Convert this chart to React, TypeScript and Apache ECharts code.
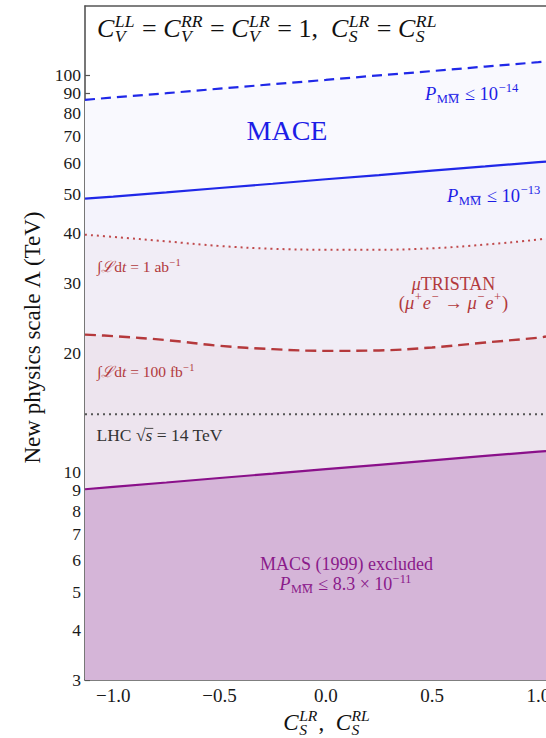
import React, { useEffect, useRef } from 'react';
import * as echarts from 'echarts';

// ---------- data ----------
const xValues = [-1.133, -1, -0.75, -0.5, -0.25, 0, 0.25, 0.5, 0.75, 1, 1.036];
const maceP14 = [86.5, 87.7, 89.9, 92.3, 94.7, 97.1, 99.7, 102.2, 104.9, 107.6, 108.0];
const maceP13 = [48.8, 49.4, 50.6, 51.9, 53.2, 54.6, 55.9, 57.4, 58.8, 60.3, 60.5];
const tristan1ab = [39.6, 39.1, 38.1, 37.1, 36.5, 36.3, 36.3, 36.6, 37.4, 38.5, 38.8];
const tristan100fb = [22.2, 22.0, 21.5, 20.8, 20.4, 20.2, 20.25, 20.6, 21.2, 21.8, 21.95];
const lhc14 = [14, 14, 14, 14, 14, 14, 14, 14, 14, 14, 14];
const macs1999 = [9.06, 9.19, 9.42, 9.67, 9.92, 10.18, 10.44, 10.71, 10.99, 11.27, 11.3];
const xTicks = [-1, -0.5, 0, 0.5, 1];
const yTicks = [3, 4, 5, 6, 7, 8, 9, 10, 20, 30, 40, 50, 60, 70, 80, 90, 100];

const FONT = 'Liberation Serif, DejaVu Serif, serif';

let mctx: CanvasRenderingContext2D | null = null;
function measure(text: string, size: number, italic: boolean): number {
  if (!mctx) mctx = document.createElement('canvas').getContext('2d');
  if (!mctx) return text.length * size * 0.5;
  mctx.font = `${italic ? 'italic ' : ''}${size}px ${FONT}`;
  return mctx.measureText(text).width;
}

type Seg = { t?: string; it?: boolean; sup?: string; sub?: string; si?: boolean; ol?: boolean; ovr?: boolean };

function textEl(text: string, x: number, y: number, size: number, italic: boolean, color: string) {
  return {
    type: 'text',
    x,
    y,
    z: 100,
    silent: true,
    style: {
      text,
      fontFamily: FONT,
      fontSize: size,
      fontStyle: italic ? 'italic' : 'normal',
      fill: color,
      align: 'left',
      verticalAlign: 'middle',
      textAlign: 'left',
      textVerticalAlign: 'middle',
    },
  };
}

function lineEl(x1: number, y1: number, x2: number, y2: number, color: string, w: number) {
  return {
    type: 'line',
    z: 100,
    silent: true,
    shape: { x1, y1, x2, y2 },
    style: { stroke: color, lineWidth: w },
  };
}

function buildMath(segs: Seg[], x: number, base: number, size: number, color: string, align: 'left' | 'center') {
  const s2 = size * 0.68;
  const raw: any[] = [];
  let cx = 0;
  for (const sg of segs) {
    if (sg.t !== undefined) {
      const w = measure(sg.t, size, !!sg.it);
      raw.push({ k: 't', text: sg.t, x: cx, y: base - 0.34 * size, size, it: !!sg.it });
      if (sg.ovr) raw.push({ k: 'l', x1: cx, x2: cx + w + 1, y: base - 0.72 * size });
      cx += w;
    } else {
      const it = !!sg.si;
      let w = 0;
      const sx = cx + 0.5;
      if (sg.sup) {
        w = Math.max(w, measure(sg.sup, s2, it));
        raw.push({ k: 't', text: sg.sup, x: sx, y: base - 0.4 * size - 0.34 * s2, size: s2, it });
      }
      if (sg.sub) {
        w = Math.max(w, measure(sg.sub, s2, it));
        const sb = base + 0.2 * size;
        raw.push({ k: 't', text: sg.sub, x: sx, y: sb - 0.34 * s2, size: s2, it });
        if (sg.ol) {
          const w1 = measure(sg.sub.slice(0, -1), s2, it);
          const w2 = measure(sg.sub, s2, it);
          raw.push({ k: 'l', x1: sx + w1 + 0.5, x2: sx + w2 - 0.5, y: sb - 0.74 * s2 });
        }
      }
      cx += w + 1.5;
    }
  }
  const off = align === 'center' ? x - cx / 2 : x;
  return raw.map((r) =>
    r.k === 't'
      ? textEl(r.text, r.x + off, r.y, r.size, r.it, color)
      : lineEl(r.x1 + off, r.y, r.x2 + off, r.y, color, Math.max(0.8, size / 20))
  );
}

const BLUE = '#1d1de6';
const RED = '#b23a3d';
const PURPLE = '#8a1a8a';
const DARK = '#111111';

function buildGraphics() {
  const g: any[] = [];
  g.push(
    ...buildMath(
      [
        { t: 'C', it: true }, { sup: 'LL', sub: 'V', si: true },
        { t: ' = ' },
        { t: 'C', it: true }, { sup: 'RR', sub: 'V', si: true },
        { t: ' = ' },
        { t: 'C', it: true }, { sup: 'LR', sub: 'V', si: true },
        { t: ' = 1,  ' },
        { t: 'C', it: true }, { sup: 'LR', sub: 'S', si: true },
        { t: ' = ' },
        { t: 'C', it: true }, { sup: 'RL', sub: 'S', si: true },
      ],
      97, 37, 26, DARK, 'left'
    )
  );
  g.push(...buildMath([{ t: 'MACE' }], 287, 140, 28, BLUE, 'center'));
  g.push(...buildMath([{ t: 'P', it: true }, { sub: 'MM', ol: true }, { t: ' ≤ 10' }, { sup: '−14' }], 425, 100, 18.5, BLUE, 'left'));
  g.push(...buildMath([{ t: 'P', it: true }, { sub: 'MM', ol: true }, { t: ' ≤ 10' }, { sup: '−13' }], 447, 202, 18.5, BLUE, 'left'));
  g.push(...buildMath([{ t: '∫' }, { t: 'ℒ', it: true }, { t: 'd' }, { t: 't', it: true }, { t: ' = 1 ab' }, { sup: '−1' }], 97, 272, 15.5, RED, 'left'));
  g.push(...buildMath([{ t: 'μ', it: true }, { t: 'TRISTAN' }], 453.5, 290, 18, RED, 'center'));
  g.push(
    ...buildMath(
      [
        { t: '(' }, { t: 'μ', it: true }, { sup: '+' }, { t: 'e', it: true }, { sup: '−' },
        { t: ' → ' }, { t: 'μ', it: true }, { sup: '−' }, { t: 'e', it: true }, { sup: '+' }, { t: ')' },
      ],
      453.5, 309, 18.5, RED, 'center'
    )
  );
  g.push(...buildMath([{ t: '∫' }, { t: 'ℒ', it: true }, { t: 'd' }, { t: 't', it: true }, { t: ' = 100 fb' }, { sup: '−1' }], 97, 377, 15.5, RED, 'left'));
  g.push(...buildMath([{ t: 'LHC ' }, { t: '√' }, { t: 's', it: true, ovr: true }, { t: ' = 14 TeV' }], 96.5, 441, 17.5, '#333333', 'left'));
  g.push(...buildMath([{ t: 'MACS (1999) excluded' }], 346.5, 570, 18, PURPLE, 'center'));
  g.push(...buildMath([{ t: 'P', it: true }, { sub: 'MM', ol: true }, { t: ' ≤ 8.3 × 10' }, { sup: '−11' }], 346, 590, 18, PURPLE, 'center'));
  g.push(
    ...buildMath(
      [{ t: 'C', it: true }, { sup: 'LR', sub: 'S', si: true }, { t: ',  ' }, { t: 'C', it: true }, { sup: 'RL', sub: 'S', si: true }],
      327, 730, 23, DARK, 'center'
    )
  );
  g.push({
    type: 'text',
    x: 32,
    y: 337.5,
    rotation: Math.PI / 2,
    z: 100,
    silent: true,
    style: {
      text: 'New physics scale Λ (TeV)',
      fontFamily: FONT,
      fontSize: 23,
      fill: DARK,
      align: 'center',
      verticalAlign: 'middle',
      textAlign: 'center',
      textVerticalAlign: 'middle',
    },
  });
  return g;
}

function pairs(ys: number[]) {
  return xValues.map((x, i) => [x, ys[i]]);
}

export default function App() {
  const ref = useRef<HTMLDivElement>(null);
  useEffect(() => {
    if (!ref.current) return;
    const chart = echarts.init(ref.current, undefined, { renderer: 'svg' });
    const axisColor = '#555555';
    const xMin = -1.133;
    const xMax = 1.036;
    const option: any = {
      animation: false,
      backgroundColor: '#ffffff',
      grid: { left: 85, right: 0, top: 6, bottom: 58, containLabel: false, outerBoundsMode: 'none' },
      xAxis: [
        {
          type: 'value',
          min: xMin,
          max: xMax,
          axisLine: { show: true, onZero: false, lineStyle: { color: axisColor, width: 1.6 } },
          axisTick: { show: true, inside: true, length: 5, customValues: xTicks, lineStyle: { color: axisColor, width: 1.2 } },
          axisLabel: {
            customValues: xTicks,
            fontFamily: FONT,
            fontSize: 19,
            color: '#1a1a1a',
            margin: 6,
            showMinLabel: true,
            showMaxLabel: true,
            hideOverlap: false,
            formatter: (v: number) => (v < 0 ? '−' : '') + Math.abs(v).toFixed(1),
          },
          splitLine: { show: false },
        },
        {
          type: 'value',
          position: 'top',
          min: xMin,
          max: xMax,
          axisLine: { show: true, onZero: false, lineStyle: { color: axisColor, width: 1.6 } },
          axisTick: { show: false },
          axisLabel: { show: false },
          splitLine: { show: false },
        },
      ],
      yAxis: {
        type: 'log',
        logBase: 10,
        min: 3,
        max: 149,
        axisLine: { show: true, onZero: false, lineStyle: { color: axisColor, width: 1.6 } },
        axisTick: { show: true, inside: true, length: 5, customValues: yTicks, lineStyle: { color: axisColor, width: 1.2 } },
        axisLabel: {
          customValues: yTicks,
          fontFamily: FONT,
          fontSize: 17.5,
          lineHeight: 16,
          color: '#1a1a1a',
          margin: 4,
          showMinLabel: true,
          showMaxLabel: true,
          hideOverlap: false,
          formatter: (v: number) => String(Math.round(v)),
        },
        minorTick: { show: false },
        splitLine: { show: false },
      },
      series: [
        {
          type: 'line',
          name: 'MACE P ≤ 1e-14',
          data: pairs(maceP14),
          showSymbol: false,
          symbol: 'none',
          lineStyle: { color: '#2028e8', width: 2.2, type: [10, 6] },
          areaStyle: { color: '#f9f9fe', opacity: 1, origin: 'start' },
        },
        {
          type: 'line',
          name: 'MACE P ≤ 1e-13',
          data: pairs(maceP13),
          showSymbol: false,
          symbol: 'none',
          lineStyle: { color: '#2028e8', width: 2.2 },
          areaStyle: { color: '#f4f3fc', opacity: 1, origin: 'start' },
        },
        {
          type: 'line',
          name: 'MuTRISTAN 1 ab-1',
          data: pairs(tristan1ab),
          smooth: 0.4,
          showSymbol: false,
          symbol: 'none',
          lineStyle: { color: '#c04a4c', width: 2, type: [2, 4] },
          areaStyle: { color: '#f1edf6', opacity: 1, origin: 'start' },
        },
        {
          type: 'line',
          name: 'MuTRISTAN 100 fb-1',
          data: pairs(tristan100fb),
          smooth: 0.4,
          showSymbol: false,
          symbol: 'none',
          lineStyle: { color: '#b5393c', width: 2.4, type: [11, 6] },
          areaStyle: { color: '#ede4ee', opacity: 1, origin: 'start' },
        },
        {
          type: 'line',
          name: 'MACS 1999',
          data: pairs(macs1999),
          showSymbol: false,
          symbol: 'none',
          lineStyle: { color: '#8a108a', width: 2.2 },
          areaStyle: { color: '#d5b5d8', opacity: 1, origin: 'start' },
        },
        {
          type: 'line',
          name: 'LHC 14 TeV',
          data: pairs(lhc14),
          showSymbol: false,
          symbol: 'none',
          lineStyle: { color: '#555555', width: 2, type: [2, 4] },
        },
      ],
      graphic: buildGraphics(),
    };
    chart.setOption(option);
    return () => chart.dispose();
  }, []);
  return (
    <div
      ref={ref}
      style={{ position: 'fixed', left: 0, top: 0, width: 546, height: 738, background: '#fff' }}
    />
  );
}
